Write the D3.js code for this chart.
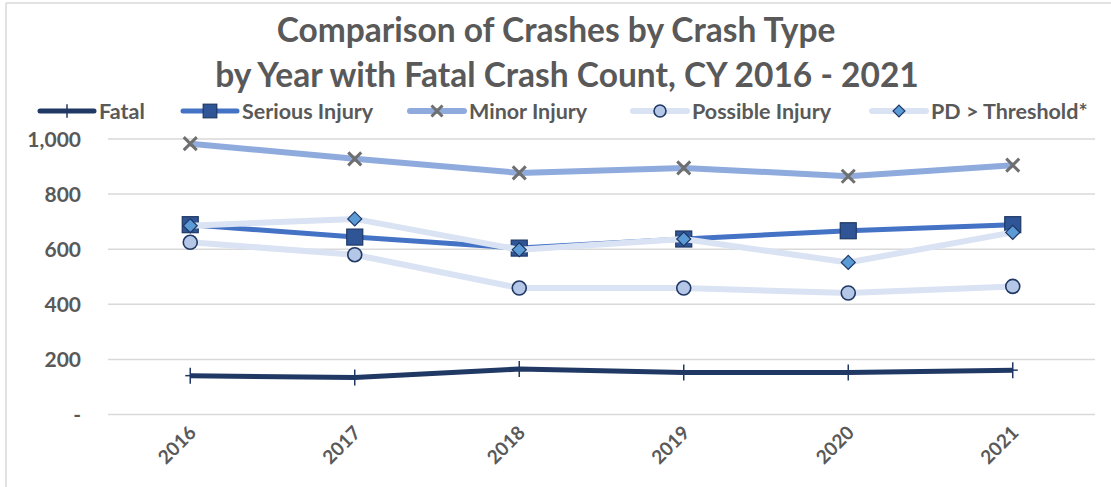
<!DOCTYPE html>
<html>
<head>
<meta charset="utf-8">
<script src="https://cdn.jsdelivr.net/npm/d3@7"></script>
<style>
  body { margin: 0; background: #fff; }
  text { font-family: Lato, "Open Sans", sans-serif; font-weight: bold; fill: #595959; }
</style>
</head>
<body>
<script>
const years = ['2016', '2017', '2018', '2019', '2020', '2021'];
const fatal = [141, 134, 165, 152, 152, 161];
const serious = [689, 644, 604, 637, 667, 689];
const minor = [983, 928, 877, 895, 865, 905];
const possible = [625, 580, 459, 459, 441, 465];
const pdThreshold = [685, 710, 598, 637, 552, 661];
const yTicks = [0, 200, 400, 600, 800, 1000];

const series = [
  { name: 'Fatal', values: fatal, line: '#203864', lw: 5, marker: 'plus' },
  { name: 'Serious Injury', values: serious, line: '#4472C4', lw: 5, marker: 'square' },
  { name: 'Minor Injury', values: minor, line: '#8FAADC', lw: 6, marker: 'x' },
  { name: 'Possible Injury', values: possible, line: '#DAE3F3', lw: 6, marker: 'circle' },
  { name: 'PD > Threshold*', values: pdThreshold, line: '#DAE3F3', lw: 6, marker: 'diamond' },
];

const width = 1111;
const height = 487;
const margin = { top: 139, right: 16, bottom: 72, left: 108 };

const svg = d3.select('body').append('svg').attr('width', width).attr('height', height);

// chart border
svg.append('line').attr('x1', 6).attr('x2', 6).attr('y1', 3).attr('y2', height)
  .attr('stroke', '#d9d9d9').attr('stroke-width', 1.5);
svg.append('line').attr('x1', 6).attr('x2', width).attr('y1', 3).attr('y2', 3)
  .attr('stroke', '#d9d9d9').attr('stroke-width', 1.5);

const x = d3.scaleBand().domain(years).range([margin.left, width - margin.right]);
const y = d3.scaleLinear().domain([0, 1000]).range([414.5, 139]);
const cx = (d, i) => x(years[i]) + x.bandwidth() / 2;

// title
const title = svg.append('text').attr('text-anchor', 'middle').style('font-size', '33.5px');
title.append('tspan').attr('x', 556).attr('y', 42).text('Comparison of Crashes by Crash Type');
title.append('tspan').attr('x', 567).attr('y', 87).text('by Year with Fatal Crash Count, CY 2016 - 2021');

// gridlines
svg.append('g').selectAll('line').data(yTicks).join('line')
  .attr('x1', margin.left).attr('x2', width - margin.right)
  .attr('y1', (d) => y(d)).attr('y2', (d) => y(d))
  .attr('stroke', '#d9d9d9').attr('stroke-width', 1.5);

// y axis labels
const yAxis = svg.append('g').attr('transform', 'translate(81,0)')
  .call(d3.axisLeft(y).tickValues(yTicks).tickSize(0).tickPadding(0)
    .tickFormat((d) => (d === 0 ? '-' : d3.format(',')(d))));
yAxis.select('.domain').remove();
yAxis.selectAll('text').style('font-size', '21px').attr('fill', '#595959').attr('dy', '0.35em');

// x axis labels
svg.append('g').selectAll('text').data(years).join('text')
  .attr('text-anchor', 'end')
  .attr('transform', (d) => `translate(${x(d) + x.bandwidth() / 2 + 7},${434}) rotate(-45)`)
  .style('font-size', '19px')
  .text((d) => d);

function drawMarker(g, type, px, py, big) {
  const k = big ? 1 : 0.85;
  if (type === 'plus') {
    g.append('line').attr('x1', px).attr('x2', px).attr('y1', py - 8 * k).attr('y2', py + 8 * k)
      .attr('stroke', '#203864').attr('stroke-width', 1.5);
    g.append('line').attr('x1', px - 5 * k).attr('x2', px + 5 * k).attr('y1', py).attr('y2', py)
      .attr('stroke', '#203864').attr('stroke-width', 1.5);
  } else if (type === 'square') {
    const s = 16 * k;
    g.append('rect').attr('x', px - s / 2).attr('y', py - s / 2).attr('width', s).attr('height', s)
      .attr('fill', '#2F5597').attr('stroke', '#1F3864').attr('stroke-width', 1.2);
  } else if (type === 'x') {
    const s = 6.5 * k;
    g.append('path').attr('d', `M${px - s},${py - s}L${px + s},${py + s}M${px - s},${py + s}L${px + s},${py - s}`)
      .attr('stroke', '#6f6f6f').attr('stroke-width', 3).attr('fill', 'none');
  } else if (type === 'circle') {
    g.append('circle').attr('cx', px).attr('cy', py).attr('r', 7 * k)
      .attr('fill', '#B4C7E7').attr('stroke', '#203864').attr('stroke-width', 1.6);
  } else if (type === 'diamond') {
    const s = 7 * k;
    g.append('path').attr('d', `M${px},${py - s}L${px + s},${py}L${px},${py + s}L${px - s},${py}Z`)
      .attr('fill', '#5B9BD5').attr('stroke', '#1F3864').attr('stroke-width', 1.2);
  }
}

const line = d3.line().x(cx).y((d) => y(d));

series.forEach((s) => {
  const g = svg.append('g');
  g.append('path').datum(s.values).attr('d', line)
    .attr('fill', 'none').attr('stroke', s.line).attr('stroke-width', s.lw)
    .attr('stroke-linejoin', 'round');
  s.values.forEach((v, i) => drawMarker(g, s.marker, cx(v, i), y(v), true));
});

// legend
const legendX = [40, 183, 410, 633, 872];
const legend = svg.append('g');
series.forEach((s, i) => {
  const lx = legendX[i];
  const ly = 111;
  legend.append('line').attr('x1', lx).attr('x2', lx + 54).attr('y1', ly).attr('y2', ly)
    .attr('stroke', s.line).attr('stroke-width', s.lw).attr('stroke-linecap', 'round');
  drawMarker(legend, s.marker, lx + 27, ly, false);
  legend.append('text').attr('x', lx + 59).attr('y', ly).attr('dy', '0.35em')
    .style('font-size', '21.5px').text(s.name);
});
</script>
</body>
</html>
